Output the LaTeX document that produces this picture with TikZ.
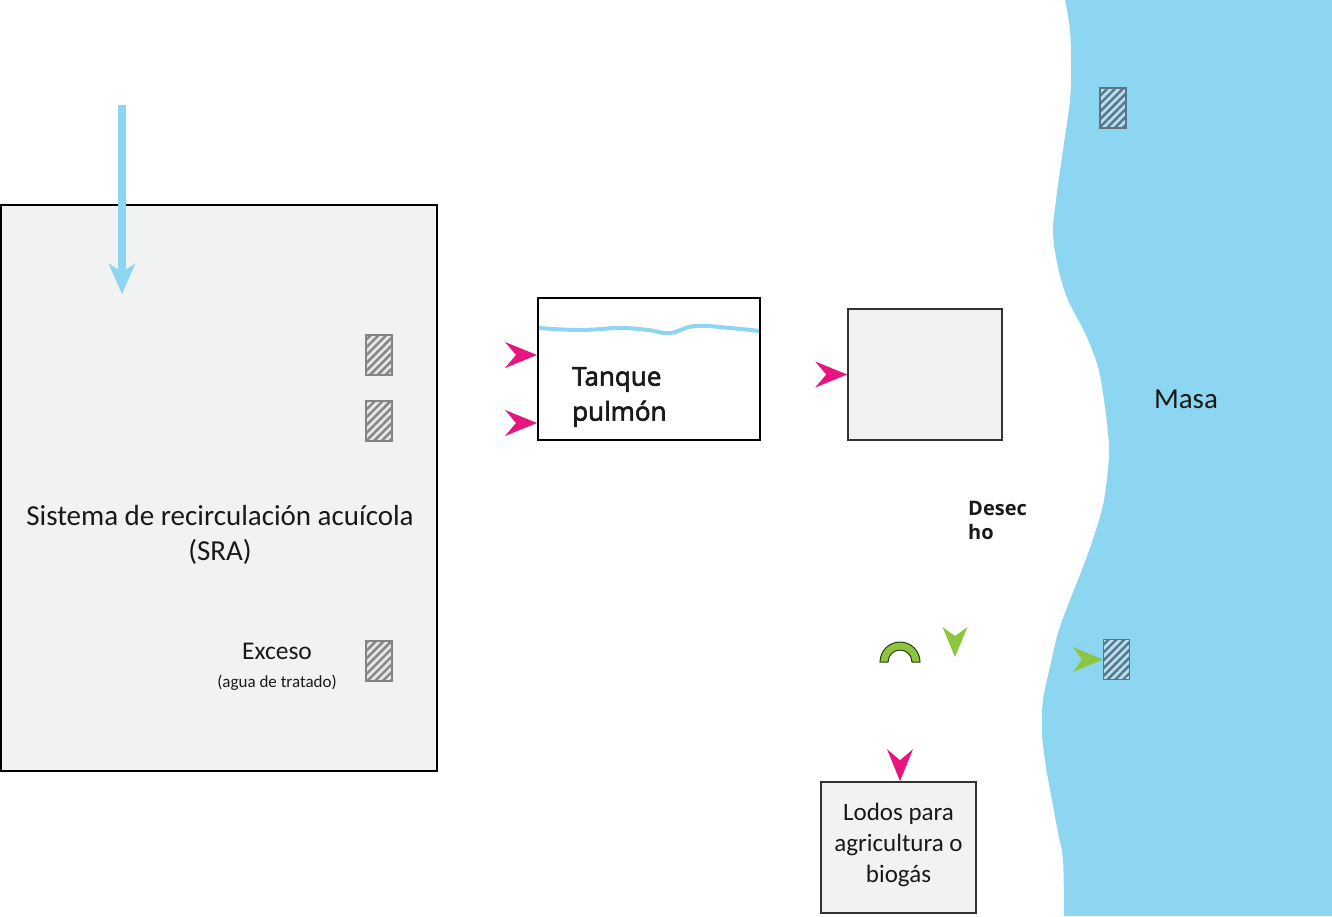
\documentclass[tikz,border=0pt]{standalone}
\usepackage{fontspec}
\setmainfont{Carlito}
\newfontfamily\tankfont[FakeBold=2.5]{Open Sans}
\newfontfamily\desfont{Open Sans}
\usetikzlibrary{arrows.meta,patterns.meta}
\definecolor{water}{HTML}{8DD6F1}
\definecolor{boxgray}{HTML}{F1F2F2}
\definecolor{mag}{HTML}{E8157F}
\definecolor{grn}{HTML}{8CC63F}
\definecolor{hatchgray}{HTML}{858585}
\definecolor{hatchblue}{HTML}{5E7482}
\tikzset{
  panel/.style={draw=black, fill=boxgray, line width=2.5pt, inner sep=0pt},
  thinpanel/.style={draw=black!80, fill=boxgray, line width=1.6pt, inner sep=0pt},
  hatchbox/.style={draw=hatchgray, line width=1.2pt, fill=black!10, minimum width=26pt, minimum height=40pt, inner sep=0pt,
    postaction={pattern={Lines[angle=45,distance=5.5pt,line width=2.4pt]}, pattern color=hatchgray}},
  hatchboxb/.style={draw=hatchblue, line width=1.2pt, fill=water!70!white, minimum width=26pt, minimum height=40pt, inner sep=0pt,
    postaction={pattern={Lines[angle=45,distance=5.5pt,line width=2.4pt]}, pattern color=hatchblue}},
  magtip/.pic={\fill[mag] (0,0) -- (-32,-13) -- (-21,0) -- (-32,13) -- cycle;},
  grntip/.pic={\fill[grn] (0,0) -- (-30,-12.5) -- (-21,0) -- (-30,12.5) -- cycle;},
  label/.style={inner sep=0pt, text=black!90},
}
\begin{document}
\begin{tikzpicture}[x=1pt,y=-1pt]
\useasboundingbox (0,0) rectangle (1332,916);
% water body
\fill[water] (1332,0) -- (1065,0) -- plot[smooth,tension=0.6] coordinates {(1065,0) (1070,30) (1071,67) (1070,100) (1063,150) (1056,200) (1053,233) (1058,267) (1068,300) (1085,333) (1098,367) (1104,400) (1108,433) (1109,456) (1104,500) (1095,533) (1083,567) (1070,600) (1058,633) (1050,667) (1043,700) (1042,733) (1046,767) (1052,800) (1058,833) (1063,860) (1064,916)} -- (1332,916) -- cycle;
\node[label, font=\fontsize{29}{33}\selectfont] (masa) at (1186,399) {Masa};
\node[hatchboxb] (h4) at (1113,108) {};
\node[hatchboxb] (h5) at (1116.5,659.5) {};

% SRA
\node[panel, minimum width=436pt, minimum height=566pt] (sra) at (219,488) {};
\node[label, align=center, font=\fontsize{29}{35}\selectfont] (sratext) at (220,535) {Sistema de recirculación acuícola\\(SRA)};
\node[hatchbox] (h1) at (379,355) {};
\node[hatchbox] (h2) at (379,421) {};
\node[hatchbox] (h3) at (379,661) {};
\node[label, font=\fontsize{25.5}{28}\selectfont] (exceso) at (277,651) {Exceso};
\node[label, font=\fontsize{17}{19}\selectfont] (agua) at (277,683) {(agua de tratado)};
\coordinate (bluestart) at (122,105);
\coordinate (blueend) at (122,294);
\draw[water, line width=8pt, -{Stealth[length=30pt,width=26pt,inset=8pt]}] (bluestart) -- (blueend);

% Tanque
\node[draw=black, fill=white, line width=2pt, minimum width=222pt, minimum height=142pt, inner sep=0pt] (tank) at (649,369) {};
\draw[water, line width=4pt] plot[smooth,tension=0.7] coordinates {(539,328) (580,330) (620,328) (648,330) (670,333) (695,326) (730,328) (759,331)};
\node[label, anchor=west, align=left, font=\tankfont\fontsize{26}{35}\selectfont] (tanktext) at (572,397) {Tanque\\pulmón};
\coordinate (m1) at (tank.west |- 0,355);
\coordinate (m2) at (tank.west |- 0,423);
\pic at (m1) {magtip};
\pic at (m2) {magtip};

% second box
\node[thinpanel, minimum width=154pt, minimum height=131pt] (box2) at (925,374.5) {};
\pic at (box2.west) {magtip};

% Desecho
\node[label, anchor=west, align=left, font=\desfont\bfseries\fontsize{20}{24}\selectfont] (desecho) at (968,520) {Desec\\ho};

% green symbols
\filldraw[fill=grn, draw=black!70!grn, line width=1pt] (880,662) arc (180:360:20) -- (912,662) arc (360:180:12) -- cycle;
\coordinate (g1) at (955,657);
\pic[rotate=-90] at (g1) {grntip};
\pic at (h5.west) {grntip};

% Lodos
\node[thinpanel, minimum width=155pt, minimum height=131pt] (lodos) at (898.5,847.5) {};
\node[label, align=center, font=\fontsize{25}{31}\selectfont] (lodostext) at (898.5,845) {Lodos para\\agricultura o\\biogás};
\coordinate (m4) at (lodos.north -| 900,0);
\pic[rotate=-90] at (m4) {magtip};
\end{tikzpicture}
\end{document}
